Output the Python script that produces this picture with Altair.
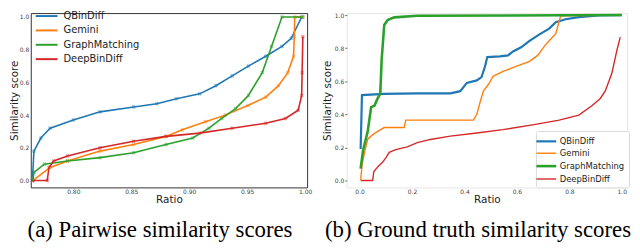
import altair as alt
import pandas as pd

methods = ["QBinDiff", "Gemini", "GraphMatching", "DeepBinDiff"]
palette = ["#1f77b4", "#ff7f0e", "#2ca02c", "#d62728"]

# ---------- (a) Pairwise similarity scores ----------
a_qbindiff_ratio = [0.7647, 0.766, 0.772, 0.780, 0.800, 0.823, 0.852, 0.872, 0.889, 0.909, 0.923, 0.937, 0.951, 0.966, 0.980, 0.988, 0.997]
a_qbindiff_score = [0.0, 0.18, 0.26, 0.32, 0.37, 0.42, 0.45, 0.47, 0.50, 0.53, 0.58, 0.64, 0.70, 0.76, 0.82, 0.87, 1.0]

a_gemini_ratio = [0.765, 0.780, 0.795, 0.823, 0.852, 0.880, 0.894, 0.914, 0.931, 0.951, 0.966, 0.977, 0.985, 0.990, 0.9906, 0.991, 0.998]
a_gemini_score = [0.0, 0.08, 0.12, 0.18, 0.22, 0.27, 0.31, 0.36, 0.40, 0.46, 0.51, 0.58, 0.66, 0.76, 0.88, 1.0, 1.0]

a_graph_ratio = [0.765, 0.766, 0.775, 0.795, 0.823, 0.852, 0.880, 0.903, 0.917, 0.928, 0.940, 0.951, 0.963, 0.971, 0.980, 0.998]
a_graph_score = [0.0, 0.05, 0.10, 0.12, 0.14, 0.17, 0.22, 0.26, 0.32, 0.38, 0.44, 0.52, 0.66, 0.82, 1.0, 1.0]

a_deep_ratio = [0.765, 0.7775, 0.779, 0.783, 0.795, 0.823, 0.852, 0.880, 0.909, 0.937, 0.966, 0.983, 0.994, 0.997, 0.9974, 0.998]
a_deep_score = [0.0, 0.0, 0.08, 0.12, 0.15, 0.20, 0.24, 0.27, 0.29, 0.32, 0.35, 0.38, 0.43, 0.52, 0.66, 0.88]

# ---------- (b) Ground truth similarity scores ----------
b_qbindiff_ratio = [0.004, 0.009, 0.094, 0.22, 0.346, 0.384, 0.409, 0.447, 0.465, 0.478, 0.487, 0.535, 0.566, 0.585, 0.616, 0.648, 0.686, 0.723, 0.748, 0.786, 0.836, 0.912, 1.0]
b_qbindiff_score = [0.19, 0.516, 0.523, 0.527, 0.527, 0.54, 0.59, 0.605, 0.625, 0.6875, 0.746, 0.75, 0.756, 0.78, 0.805, 0.844, 0.883, 0.918, 0.957, 0.975, 0.988, 0.998, 1.0]

b_gemini_ratio = [0.004, 0.01, 0.019, 0.031, 0.05, 0.069, 0.094, 0.17, 0.176, 0.434, 0.447, 0.459, 0.472, 0.491, 0.509, 0.547, 0.597, 0.648, 0.679, 0.711, 0.748, 0.767, 1.0]
b_gemini_score = [0.004, 0.10, 0.17, 0.25, 0.277, 0.297, 0.32, 0.32, 0.365, 0.365, 0.40, 0.47, 0.54, 0.58, 0.63, 0.66, 0.69, 0.72, 0.756, 0.824, 0.887, 0.996, 1.0]

b_graph_ratio = [0.004, 0.013, 0.031, 0.044, 0.057, 0.067, 0.079, 0.084, 0.094, 0.107, 0.132, 0.22, 1.0]
b_graph_score = [0.072, 0.18, 0.297, 0.443, 0.453, 0.49, 0.527, 0.727, 0.94, 0.97, 0.986, 0.996, 1.0]

b_deep_ratio = [0.004, 0.05, 0.054, 0.069, 0.088, 0.10, 0.113, 0.138, 0.182, 0.22, 0.27, 0.346, 0.447, 0.547, 0.66, 0.761, 0.836, 0.887, 0.918, 0.937, 0.962, 0.981, 0.994]
b_deep_score = [0.0, 0.0, 0.053, 0.082, 0.111, 0.137, 0.17, 0.186, 0.203, 0.229, 0.248, 0.268, 0.287, 0.307, 0.336, 0.365, 0.395, 0.453, 0.496, 0.541, 0.648, 0.785, 0.867]


def frame(groups):
    rows = []
    for name, xs, ys in groups:
        for i, (x, y) in enumerate(zip(xs, ys)):
            rows.append({"method": name, "ratio": x, "score": y, "i": i})
    return pd.DataFrame(rows)


df_a = frame([
    ("QBinDiff", a_qbindiff_ratio, a_qbindiff_score),
    ("Gemini", a_gemini_ratio, a_gemini_score),
    ("GraphMatching", a_graph_ratio, a_graph_score),
    ("DeepBinDiff", a_deep_ratio, a_deep_score),
])
df_b = frame([
    ("QBinDiff", b_qbindiff_ratio, b_qbindiff_score),
    ("Gemini", b_gemini_ratio, b_gemini_score),
    ("GraphMatching", b_graph_ratio, b_graph_score),
    ("DeepBinDiff", b_deep_ratio, b_deep_score),
])

FONT = "DejaVu Sans"
SERIF = "Liberation Serif"
axis_common = dict(
    labelFont=FONT, labelFontSize=6, labelColor="#444",
    titleFont=FONT, titleFontSize=10.5, titleFontWeight="normal", titleColor="#222",
    grid=False, domain=False,
)

# ----- panel (a)
xa = alt.X("ratio:Q", scale=alt.Scale(domain=[0.7633, 1.0017], nice=False, zero=False),
           axis=alt.Axis(values=[0.80, 0.85, 0.90, 0.95, 1.00], format=".2f", title="Ratio",
                         ticks=False, labelPadding=1, titlePadding=0, **axis_common))
ya = alt.Y("score:Q", scale=alt.Scale(domain=[-0.042, 1.024], nice=False, zero=False),
           axis=alt.Axis(values=[0, 0.2, 0.4, 0.6, 0.8, 1.0], format=".1f", title="Similarity score",
                         ticks=False, labelPadding=2, titlePadding=0, **axis_common))
leg_a = alt.Legend(orient="none", legendX=10, legendY=-3, title=None,
                   symbolType="M-2.2,0H2.2", symbolSize=100, symbolStrokeWidth=2,
                   labelFont=FONT, labelFontSize=10, labelColor="#222",
                   labelOffset=11, rowPadding=3.5, padding=0)
col_a = alt.Color("method:N", scale=alt.Scale(domain=methods, range=palette), legend=leg_a)
# marker colours: same palette, scale domain taken from the data (alphabetical order)
fill_a = alt.Fill("method:N", scale=alt.Scale(range=[palette[3], palette[1], palette[2], palette[0]]), legend=None)

base_a = alt.Chart(df_a)
pts_a = base_a.mark_point(shape="cross", angle=45, size=18, filled=True, strokeWidth=0, opacity=0.45).encode(
    x=xa, y=ya, fill=fill_a)
line_a = base_a.mark_line(strokeWidth=1.6).encode(x=xa, y=ya, color=col_a, order="i:Q")
panel_a = alt.layer(pts_a, line_a).properties(
    width=279, height=176,
    view=alt.ViewBackground(stroke="#333", strokeWidth=1),
    title=alt.TitleParams("(a) Pairwise similarity scores", orient="bottom", anchor="middle",
                          font=SERIF, fontSize=23, fontWeight="normal", color="black",
                          offset=15, dx=-9),
)

# ----- panel (b)
xb = alt.X("ratio:Q", scale=alt.Scale(domain=[-0.049, 1.02], nice=False, zero=False),
           axis=alt.Axis(values=[0, 0.2, 0.4, 0.6, 0.8, 1.0], format=".1f", title="Ratio",
                         ticks=False, labelPadding=1, titlePadding=0, **axis_common))
yb = alt.Y("score:Q", scale=alt.Scale(domain=[-0.042, 1.012], nice=False, zero=False),
           axis=alt.Axis(values=[0, 0.2, 0.4, 0.6, 0.8, 1.0], format=".1f", title="Similarity score",
                         ticks=True, tickSize=2, tickColor="#666", labelPadding=1, titlePadding=2,
                         **axis_common))
leg_b = alt.Legend(orient="none", legendX=191, legendY=119, title=None,
                   symbolType="M-2,0H2", symbolSize=100,
                   labelFont=FONT, labelFontSize=8.5, labelColor="#222",
                   labelOffset=7, rowPadding=1.5, padding=4,
                   strokeColor="#d9d9d9", fillColor="white", cornerRadius=2)
col_b = alt.Color("method:N", scale=alt.Scale(domain=methods, range=palette), legend=leg_b)
sw_b = alt.StrokeWidth("method:N", scale=alt.Scale(type="ordinal", domain=methods, range=[2.2, 1.4, 2.6, 1.4]),
                       legend=leg_b)
panel_b = alt.Chart(df_b).mark_line().encode(x=xb, y=yb, color=col_b, strokeWidth=sw_b, order="i:Q").properties(
    width=283, height=176,
    view=alt.ViewBackground(stroke="#e6e6e6", strokeWidth=1),
    title=alt.TitleParams("(b) Ground truth similarity scores", orient="bottom", anchor="middle",
                          font=SERIF, fontSize=23, fontWeight="normal", color="black",
                          offset=15, dx=-9),
)

chart = alt.hconcat(panel_a, panel_b, spacing=40, bounds="flush").resolve_scale(
    color="independent", fill="independent", strokeWidth="independent"
).properties(padding=0, background="white")

chart.save("out.html", embed_options={"renderer": "svg", "actions": False})
